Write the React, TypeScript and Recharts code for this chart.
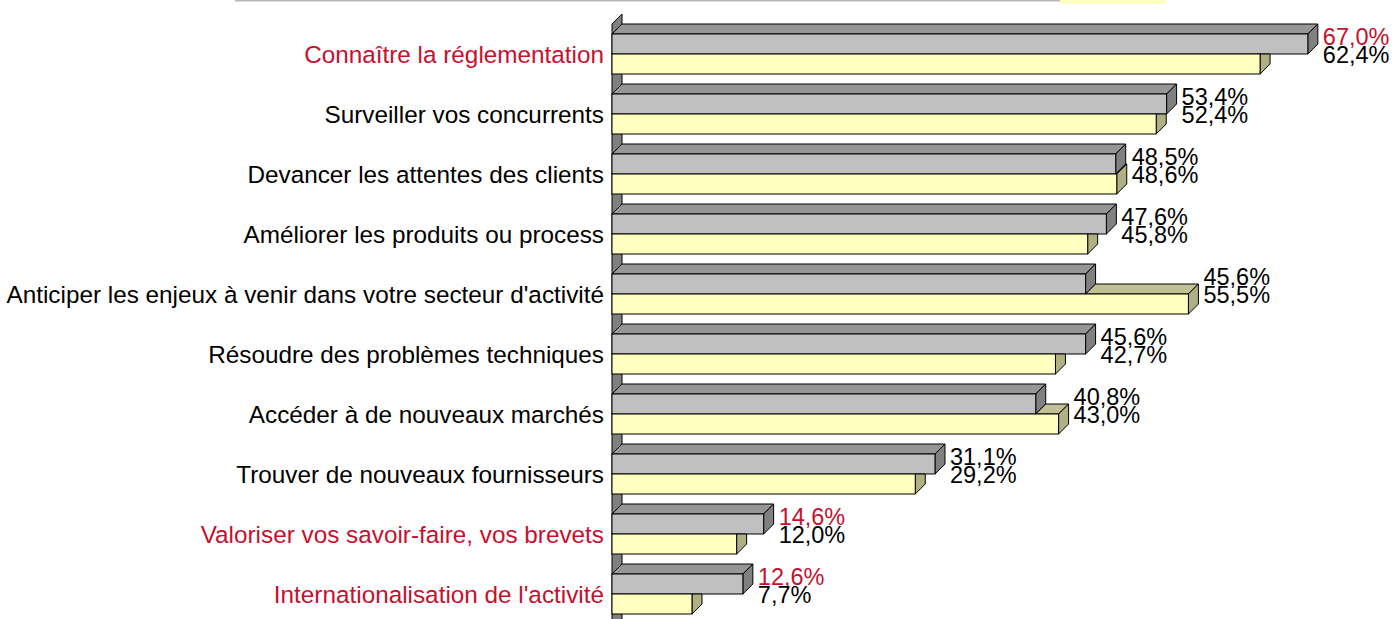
import React from 'react';
import { BarChart, Bar, XAxis, YAxis, LabelList } from 'recharts';

const categories = [
  'Connaître la réglementation',
  'Surveiller vos concurrents',
  'Devancer les attentes des clients',
  'Améliorer les produits ou process',
  "Anticiper les enjeux à venir dans votre secteur d'activité",
  'Résoudre des problèmes techniques',
  'Accéder à de nouveaux marchés',
  'Trouver de nouveaux fournisseurs',
  'Valoriser vos savoir-faire, vos brevets',
  "Internationalisation de l'activité",
];
const grayValues = [67.0, 53.4, 48.5, 47.6, 45.6, 45.6, 40.8, 31.1, 14.6, 12.6];
const yellowValues = [62.4, 52.4, 48.6, 45.8, 55.5, 42.7, 43.0, 29.2, 12.0, 7.7];
const highlighted = [true, false, false, false, false, false, false, false, true, true];

const data = categories.map((name, i) => ({
  name,
  gray: grayValues[i],
  yellow: yellowValues[i],
  red: highlighted[i],
}));

const RED = '#c8102e';
const D = 10; // 3D depth
const FONT = '"Liberation Sans", Arial, sans-serif';

const fmt = (v: number) => v.toFixed(1).replace('.', ',') + '%';
const pts = (arr: number[][]) => arr.map(p => p.join(',')).join(' ');

const GrayShape = (props: any) => {
  const { x, y, width: w, height: h } = props;
  return (
    <g stroke="#000" strokeWidth={1}>
      <polygon points={pts([[x, y], [x + D, y - D], [x + w + D, y - D], [x + w, y]])} fill="#969696" />
      <polygon points={pts([[x + w, y], [x + w + D, y - D], [x + w + D, y + h - D], [x + w, y + h]])} fill="#808080" />
      <rect x={x} y={y} width={w} height={h} fill="#c0c0c0" />
    </g>
  );
};

const YellowShape = (props: any) => {
  const { x, y, width: w, height: h, payload } = props;
  const ppu = w / payload.yellow;
  const grayEnd = x + payload.gray * ppu;
  const ye = x + w;
  return (
    <g stroke="#000" strokeWidth={1}>
      {payload.yellow > payload.gray ? (
        <>
          <polygon points={pts([[grayEnd, y], [grayEnd + D, y - D], [ye + D, y - D], [ye, y]])} fill="#c0c094" />
          <polygon points={pts([[ye, y], [ye + D, y - D], [ye + D, y + h - D], [ye, y + h]])} fill="#b0b084" />
        </>
      ) : (
        <polygon points={pts([[ye, y], [ye + D, y], [ye + D, y + h - D], [ye, y + h]])} fill="#b0b084" />
      )}
      <rect x={x} y={y} width={w} height={h} fill="#ffffc0" />
    </g>
  );
};

const ValueLabels = (props: any) => {
  const { x, y, width: w, index } = props;
  const d = data[index];
  const ppu = w / d.gray;
  const tx = x + Math.max(d.gray, d.yellow) * ppu + D + 5;
  return (
    <g fontFamily={FONT} fontSize={23.5}>
      <text x={tx} y={y + 11} fill={d.red ? RED : '#000'}>{fmt(d.gray)}</text>
      <text x={tx} y={y + 29} fill="#000">{fmt(d.yellow)}</text>
    </g>
  );
};

const CategoryTick = (props: any) => {
  const { y, payload, index } = props;
  return (
    <text x={604} y={y} textAnchor="end" dominantBaseline="central" fontFamily={FONT} fontSize={24.3}
      fill={highlighted[index] ? RED : '#000'}>
      {payload.value}
    </text>
  );
};

export default function App() {
  return (
    <div style={{ position: 'relative', width: 1394, height: 619, overflow: 'hidden', background: '#fff' }}>
      <style>{'body{margin:0}'}</style>
      <svg width={1394} height={619} style={{ position: 'absolute', left: 0, top: 0 }}>
        <line x1={235} y1={0.5} x2={1166} y2={0.5} stroke="#b8b8b8" strokeWidth={2} />
        <rect x={1060} y={0} width={106} height={4} fill="#ffffc0" />
        <polygon points={pts([[612, 24], [622, 14], [622, 640], [612, 650]])} fill="#808080" stroke="#000" />
      </svg>
      <div style={{ position: 'relative' }}>
        <BarChart
          width={1394}
          height={640}
          data={data}
          layout="vertical"
          margin={{ top: 24, right: 55, bottom: 16, left: 0 }}
          barGap={0}
        >
          <XAxis type="number" domain={[0, 70]} hide />
          <YAxis type="category" dataKey="name" width={612} axisLine={false} tickLine={false} interval={0} tick={<CategoryTick />} />
          <Bar dataKey="gray" barSize={20} shape={<GrayShape />} isAnimationActive={false}>
            <LabelList dataKey="gray" content={<ValueLabels />} />
          </Bar>
          <Bar dataKey="yellow" barSize={20} shape={<YellowShape />} isAnimationActive={false} />
        </BarChart>
      </div>
    </div>
  );
}
